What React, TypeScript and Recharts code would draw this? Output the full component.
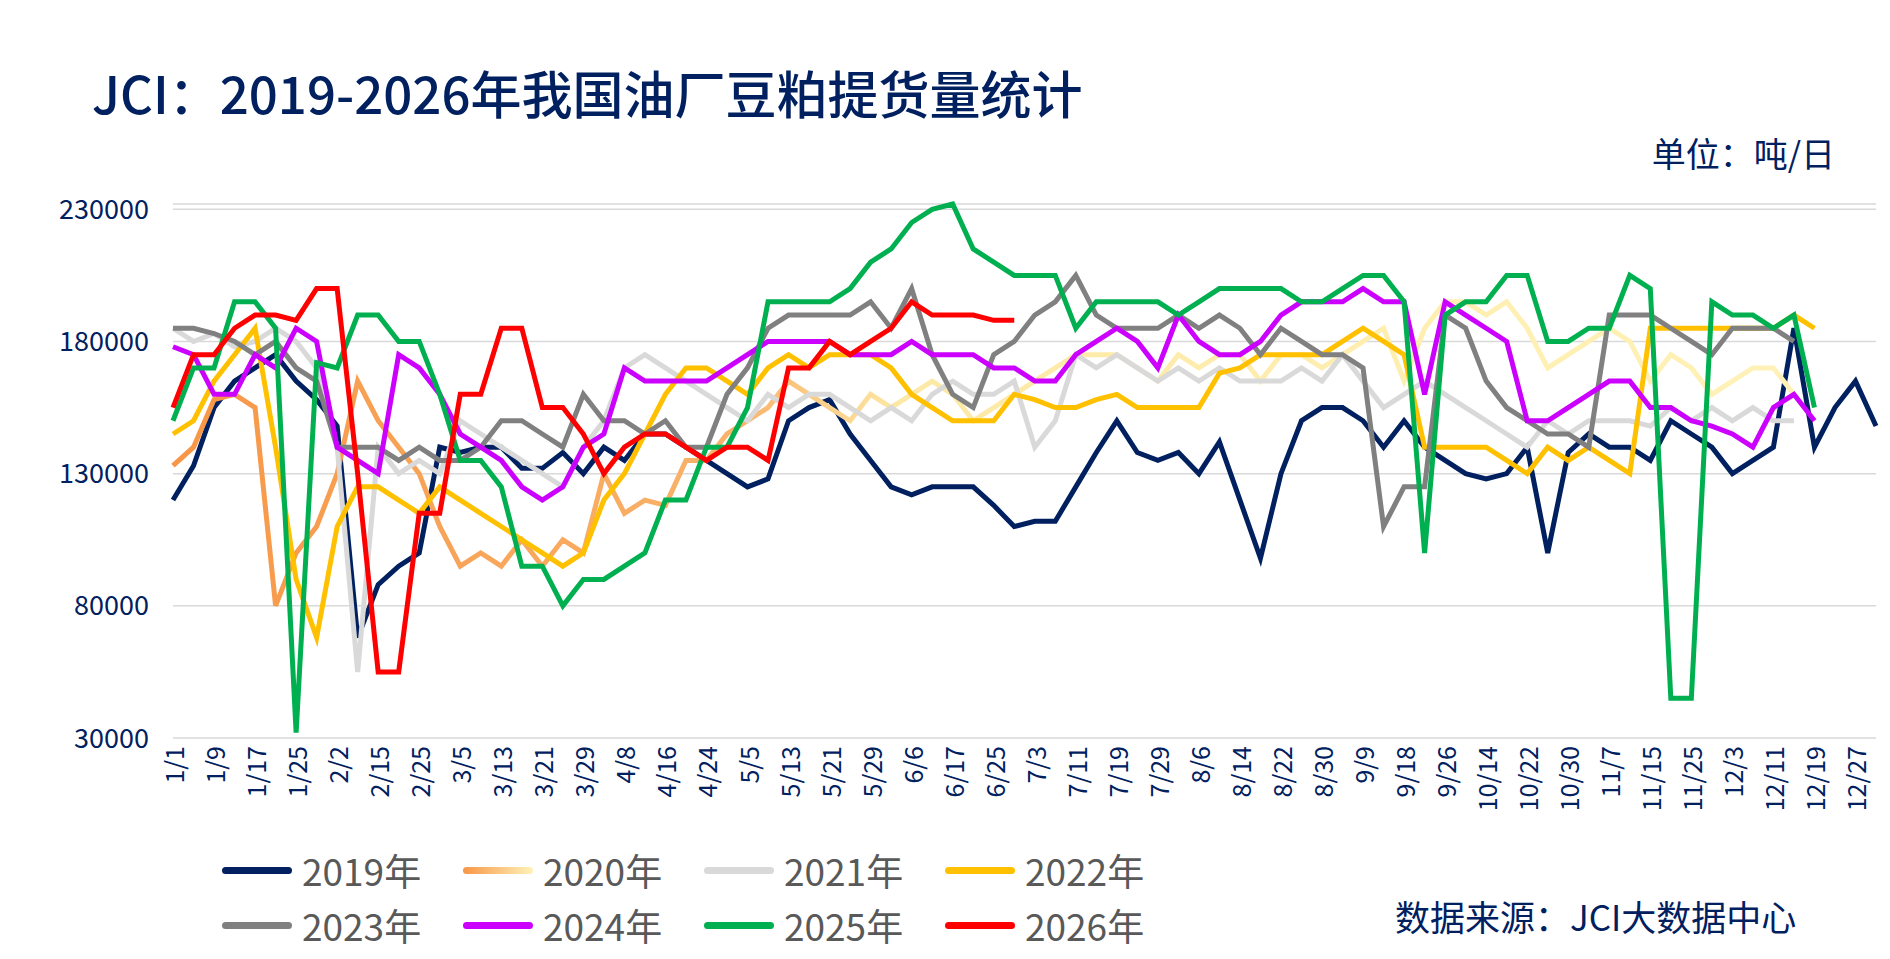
import React from "react";
import { LineChart, Line, XAxis, YAxis, CartesianGrid } from "recharts";

const tickLabels = [
  "1/1", "1/9", "1/17", "1/25", "2/2", "2/15", "2/25", "3/5", "3/13", "3/21", "3/29",
  "4/8", "4/16", "4/24", "5/5", "5/13", "5/21", "5/29", "6/6", "6/17", "6/25", "7/3",
  "7/11", "7/19", "7/29", "8/6", "8/14", "8/22", "8/30", "9/9", "9/18", "9/26", "10/14",
  "10/22", "10/30", "11/7", "11/15", "11/25", "12/3", "12/11", "12/19", "12/27",
];

// values in thousand tonnes/day, two points per tick interval
const y2019 = [
  120, 133, 155, 165, 170, 175, 165, 158, 148, 68,
  88, 95, 100, 140, 138, 140, 140, 132, 132, 138,
  130, 140, 135, 145, 145, 140, 135, 130, 125, 128,
  150, 155, 158, 145, 135, 125, 122, 125, 125, 125,
  118, 110, 112, 112, 125, 138, 150, 138, 135, 138,
  130, 142, 120, 98, 130, 150, 155, 155, 150, 140,
  150, 140, 135, 130, 128, 130, 140, 100, 138, 145,
  140, 140, 135, 150, 145, 140, 130, 135, 140, 185,
  140, 155, 165, 148,
];
const y2020 = [
  133, 140, 158, 160, 155, 80, 100, 110, 130, 165,
  150, 140, 130, 110, 95, 100, 95, 105, 95, 105,
  100, 130, 115, 120, 118, 135, 135, 145, 150, 155,
  165, 160, 155, 150, 160, 155, 160, 165, 160, 150,
  155, 160, 165, 170, 175, 175, 175, 170, 165, 175,
  170, 175, 175, 165, 175, 175, 170, 175, 180, 185,
  165, 185, 195, 195, 190, 195, 185, 170, 175, 180,
  185, 180, 165, 175, 170, 160, 165, 170, 170, 160,
  null, null, null, null,
];
const y2021 = [
  185, 180, 183, 178, 180, 185, 180, 170, 140, 55,
  140, 130, 135, 130, 150, 145, 140, 135, 130, 125,
  140, 150, 170, 175, 170, 165, 160, 155, 150, 160,
  155, 160, 160, 155, 150, 155, 150, 160, 165, 160,
  160, 165, 140, 150, 175, 170, 175, 170, 165, 170,
  165, 170, 165, 165, 165, 170, 165, 175, 165, 155,
  160, 165, 160, 155, 150, 145, 140, 150, 145, 150,
  150, 150, 148, 155, 150, 155, 150, 155, 150, 150,
  null, null, null, null,
];
const y2022 = [
  145, 150, 165, 175, 185, 140, 90, 68, 110, 125,
  125, 120, 115, 125, 120, 115, 110, 105, 100, 95,
  100, 120, 130, 145, 160, 170, 170, 165, 160, 170,
  175, 170, 175, 175, 175, 170, 160, 155, 150, 150,
  150, 160, 158, 155, 155, 158, 160, 155, 155, 155,
  155, 168, 170, 175, 175, 175, 175, 180, 185, 180,
  175, 140, 140, 140, 140, 135, 130, 140, 135, 140,
  135, 130, 185, 185, 185, 185, 185, 185, 185, 190,
  185, null, null, null,
];
const y2023 = [
  185, 185, 183, 180, 175, 180, 170, 165, 140, 140,
  140, 135, 140, 135, 135, 140, 150, 150, 145, 140,
  160, 150, 150, 145, 150, 140, 140, 160, 170, 185,
  190, 190, 190, 190, 195, 185, 200, 175, 160, 155,
  175, 180, 190, 195, 205, 190, 185, 185, 185, 190,
  185, 190, 185, 175, 185, 180, 175, 175, 170, 110,
  125, 125, 190, 185, 165, 155, 150, 145, 145, 140,
  190, 190, 190, 185, 180, 175, 185, 185, 185, 180,
  null, null, null, null,
];
const y2024 = [
  178, 175, 160, 160, 175, 170, 185, 180, 140, 135,
  130, 175, 170, 160, 145, 140, 135, 125, 120, 125,
  140, 145, 170, 165, 165, 165, 165, 170, 175, 180,
  180, 180, 180, 175, 175, 175, 180, 175, 175, 175,
  170, 170, 165, 165, 175, 180, 185, 180, 170, 190,
  180, 175, 175, 180, 190, 195, 195, 195, 200, 195,
  195, 160, 195, 190, 185, 180, 150, 150, 155, 160,
  165, 165, 155, 155, 150, 148, 145, 140, 155, 160,
  150, null, null, null,
];
const y2025 = [
  150, 170, 170, 195, 195, 185, 32, 172, 170, 190,
  190, 180, 180, 160, 135, 135, 125, 95, 95, 80,
  90, 90, 95, 100, 120, 120, 140, 140, 155, 195,
  195, 195, 195, 200, 210, 215, 225, 230, 232, 215,
  210, 205, 205, 205, 185, 195, 195, 195, 195, 190,
  195, 200, 200, 200, 200, 195, 195, 200, 205, 205,
  195, 100, 190, 195, 195, 205, 205, 180, 180, 185,
  185, 205, 200, 45, 45, 195, 190, 190, 185, 190,
  155, null, null, null,
];
const y2026 = [
  155, 175, 175, 185, 190, 190, 188, 200, 200, 130,
  55, 55, 115, 115, 160, 160, 185, 185, 155, 155,
  145, 130, 140, 145, 145, 140, 135, 140, 140, 135,
  170, 170, 180, 175, 180, 185, 195, 190, 190, 190,
  188, 188, null, null, null, null, null, null, null, null,
  null, null, null, null, null, null, null, null, null, null,
  null, null, null, null, null, null, null, null, null, null,
  null, null, null, null, null, null, null, null, null, null,
  null, null, null, null,
];

const series = [
  { key: "y2019", name: "2019年", color: "#002060", values: y2019 },
  { key: "y2020", name: "2020年", color: "url(#g2020)", values: y2020 },
  { key: "y2021", name: "2021年", color: "#D9D9D9", values: y2021 },
  { key: "y2022", name: "2022年", color: "#FFC000", values: y2022 },
  { key: "y2023", name: "2023年", color: "#808080", values: y2023 },
  { key: "y2024", name: "2024年", color: "#CC00FF", values: y2024 },
  { key: "y2025", name: "2025年", color: "#00B050", values: y2025 },
  { key: "y2026", name: "2026年", color: "#FF0000", values: y2026 },
];

const data = y2019.map((_, i) => {
  const row: any = { i };
  series.forEach((s) => {
    const v = s.values[i];
    row[s.key] = v == null ? null : v * 1000;
  });
  return row;
});

const tickIdx = tickLabels.map((_, k) => k * 2);
const font = "'Noto Sans CJK SC', 'Noto Sans', sans-serif";
const navy = "#002060";

export default function App() {
  return (
    <div style={{ position: "absolute", left: 0, top: 0, width: 1890, height: 959, background: "#fff", fontFamily: font }}>
      <div style={{ position: "absolute", left: 92, top: 55, fontSize: 51, fontWeight: 500, color: navy }}>
        JCI：2019-2026年我国油厂豆粕提货量统计
      </div>
      <div style={{ position: "absolute", right: 55, top: 128, fontSize: 34, color: navy }}>单位：吨/日</div>
      <LineChart width={1890} height={959} data={data} margin={{ top: 204, right: 14, bottom: 131, left: 0 }}>
        <defs>
          <linearGradient id="g2020" x1="0" y1="0" x2="1" y2="0">
            <stop offset="0" stopColor="#F79646" />
            <stop offset="0.35" stopColor="#F9B36B" />
            <stop offset="0.45" stopColor="#FDE9A6" />
            <stop offset="1" stopColor="#FFF2B8" />
          </linearGradient>
        </defs>
        <CartesianGrid vertical={false} stroke="#D9D9D9" strokeWidth={1.5} />
        <XAxis
          dataKey="i"
          type="number"
          domain={[0, 83]}
          ticks={tickIdx}
          interval={0}
          axisLine={false}
          tickLine={false}
          height={90}
          tick={(p: any) => (
            <text
              x={p.x}
              y={p.y}
              transform={`rotate(-90 ${p.x} ${p.y})`}
              textAnchor="end"
              dominantBaseline="central"
              fill={navy}
              fontSize={25}
              fontFamily={font}
            >
              {tickLabels[p.payload.value / 2]}
            </text>
          )}
        />
        <YAxis
          domain={[30000, 230000]}
          ticks={[30000, 80000, 130000, 180000, 230000]}
          width={173}
          axisLine={false}
          tickLine={false}
          tick={{ fill: navy, fontSize: 27, fontFamily: font }}
          tickMargin={18}
        />
        {series.map((s) => (
          <Line
            key={s.key}
            dataKey={s.key}
            stroke={s.color}
            strokeWidth={5}
            dot={false}
            type="linear"
            connectNulls={false}
            isAnimationActive={false}
          />
        ))}
      </LineChart>
      {series.map((s, k) => {
        const col = k % 4;
        const row = Math.floor(k / 4);
        return (
          <div
            key={s.key}
            style={{ position: "absolute", left: 222 + col * 241, top: 843 + row * 55, display: "flex", alignItems: "center", fontSize: 37, color: "#595959" }}
          >
            <div
              style={{
                width: 70,
                height: 7,
                borderRadius: 4,
                marginRight: 10,
                background: s.key === "y2020" ? "linear-gradient(90deg,#F79646,#FFF2B8)" : s.color,
              }}
            />
            {s.name}
          </div>
        );
      })}
      <div style={{ position: "absolute", left: 1395, top: 890, fontSize: 35, color: navy }}>数据来源：JCI大数据中心</div>
    </div>
  );
}
